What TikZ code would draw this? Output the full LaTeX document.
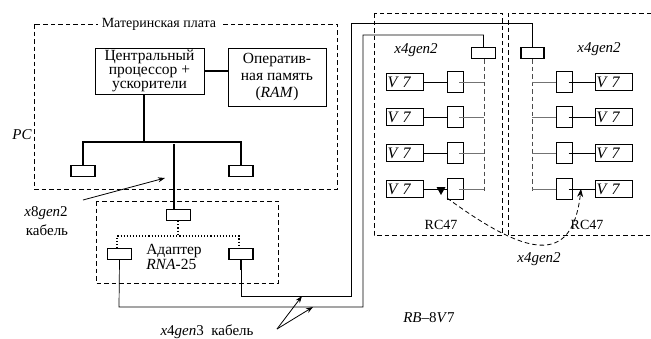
\documentclass[tikz,border=0pt]{standalone}
\usepackage{fontspec}
\setmainfont{Liberation Serif}
\usetikzlibrary{arrows.meta,calc}
\begin{document}
\begin{tikzpicture}[x=1pt,y=-1pt,
  bigbox/.style={draw,line width=0.9pt,inner sep=0pt,align=center},
  conn/.style={draw,line width=1.4pt,minimum width=24pt,minimum height=11pt,inner sep=0pt},
  sconn/.style={draw,line width=1.1pt,minimum width=24pt,minimum height=11pt,inner sep=0pt},
  small/.style={draw,line width=0.8pt,minimum width=16pt,minimum height=21pt,inner sep=0pt},
  vbox/.style={draw,line width=0.8pt,minimum width=37pt,minimum height=17pt,inner sep=0pt,
    text width=34pt,align=left,font=\fontsize{16}{16}\selectfont\itshape},
  dsh/.style={dash pattern=on 4.5pt off 3pt,line width=0.8pt},
  bus/.style={line width=1.1pt},
  wire/.style={line width=0.7pt},
  gwire/.style={line width=0.7pt,draw=black!55},
  lbl/.style={inner sep=0pt,font=\fontsize{15}{15}\selectfont},
  arr/.style={line width=0.8pt,-{Stealth[length=7pt,width=5pt]}}
]
\useasboundingbox (0,0) rectangle (651,338);

% motherboard
\draw[dsh] (34,24) rectangle (337,189);
\node[lbl,fill=white,inner xsep=4pt,font=\fontsize{14}{14}\selectfont] (mbt) at (159,24) {Материнская плата};
\node[lbl,font=\fontsize{15}{15}\selectfont\itshape] (pc) at (22,135) {PC};

\node[bigbox,minimum width=109pt,minimum height=46pt,font=\fontsize{15.5}{14}\selectfont] (cpu) at (149.5,71) {Центральный\\процессор +\\ускорители};
\node[bigbox,minimum width=98pt,minimum height=58pt,font=\fontsize{15.5}{17}\selectfont] (ram) at (277,77) {Оператив-\\ная память\\(\textit{RAM})};
\draw[bus] (cpu.east) -- (cpu.east -| ram.west);

\coordinate (busL) at (83,142);
\coordinate (busR) at (241,142);
\coordinate (busM) at (144,142);
\node[conn] (pcL) at (83,171) {};
\node[conn] (pcR) at (241,171) {};
\draw[bus] (cpu.south -| busM) -- (busM);
\draw[bus] (pcL.north) -- (busL) -- (busR) -- (pcR.north);

% adapter
\draw[dsh] (96,201) rectangle (278,283);
\node[conn] (adT) at (178.5,215) {};
\node[conn] (adL) at (119.5,254) {};
\node[conn] (adR) at (241,254) {};
\coordinate (mid) at (174,144);
\draw[bus] (mid) -- (mid |- adT.north);
\coordinate (dotC) at (178,236);
\draw[line width=1.1pt,dotted] (adT.south -| dotC) -- (dotC);
\draw[line width=1.1pt,dotted] (117,248) |- (dotC) -| (239,248);
\node[lbl,align=left,font=\fontsize{15.5}{15}\selectfont] (adtxt) at (174,256.5) {Адаптер\\\textit{RNA}-25};

% x8gen2 label
\node[lbl] (x8) at (46,213) {\textit{x}8\textit{gen}2};
\node[lbl] (x8k) at (47,230) {кабель};
\coordinate (x8s) at (83,200);
\coordinate (x8e) at (165,178);
\draw[arr] (x8s) -- (x8e);

% RC47 boxes
\draw[dsh] (374,13) rectangle (502,235);
\draw[dsh] (651,13) -- (508,13) -- (508,235) -- (651,235);
\node[lbl,font=\fontsize{15}{15}\selectfont\itshape] (xl) at (416,50) {x4gen2};
\node[lbl,font=\fontsize{15}{15}\selectfont\itshape] (xr) at (599,49) {x4gen2};
\node[sconn] (tL) at (483.5,53) {};
\node[sconn,minimum width=23pt] (tR) at (532.5,53) {};
\coordinate (dL) at (484,192);
\coordinate (dR) at (532,192);
\draw[dsh,draw=black!70] (tL.south -| dL) -- (dL);
\draw[dsh,draw=black!70] (tR.south -| dR) -- (dR);

% cables
\coordinate (c1a) at (119,307);
\coordinate (c1b) at (363,307);
\coordinate (c1c) at (363,35);
\coordinate (c2a) at (241,296);
\coordinate (c2b) at (351,296);
\coordinate (c2c) at (351,23);
\draw[wire] (adL.south) -- (c1a) -- (c1b) -- (c1c) -| (tL.north);
\draw[wire] (adR.south) -- (c2a) -- (c2b) -- (c2c) -| (tR.north);
\draw[line width=1.5pt] (adR.south) -- ++(0,10);

% rows
\foreach \i/\y in {1/82,2/117,3/153,4/189}{
  \node[vbox] (vl\i) at (404.5,\y) {V 7};
  \node[small] (sl\i) at (455,\y) {};
  \node[small] (sr\i) at (564.5,\y) {};
  \node[vbox] (vr\i) at (613.5,\y) {V 7};
  \draw[wire] (vl\i.east) -- (sl\i.west);
  \draw[gwire] ([xshift=4pt]sl\i.center) -- (sl\i.center -| dL);
  \draw[gwire] (sr\i.center -| dR) -- (sr\i.west);
  \draw[wire] ([xshift=4pt]sr\i.center) -- (vr\i.west);
}

% dashed link between RC47
\coordinate (triT) at (441,195);
\fill (triT) -- ++(-4.5,-8) -- ++(9,0) -- cycle;
\coordinate (lkS) at (447,198);
\coordinate (lkE) at (581,189);
\draw[dsh,-{Stealth[length=8pt,width=6pt]}] (lkS) .. controls (525,255) and (572,268) .. (lkE);

\node[lbl,font=\fontsize{14}{14}\selectfont] (rcl) at (441,225) {RC47};
\node[lbl,font=\fontsize{14}{14}\selectfont] (rcr) at (587,225) {RC47};
\node[lbl,font=\fontsize{15}{15}\selectfont\itshape] (xb) at (539,259) {x4gen2};
\node[lbl] (rb) at (429,318) {\textit{RB}–8\textit{V}7};

% x4gen3 cable label
\node[lbl] (x43) at (207,332) {\textit{x}4\textit{gen}3\ \ кабель};
\coordinate (a0) at (277,329);
\coordinate (a1) at (302,296);
\coordinate (a2) at (313,307);
\draw[arr] (a0) -- (a1);
\draw[arr] (a0) -- (a2);
\end{tikzpicture}
\end{document}
